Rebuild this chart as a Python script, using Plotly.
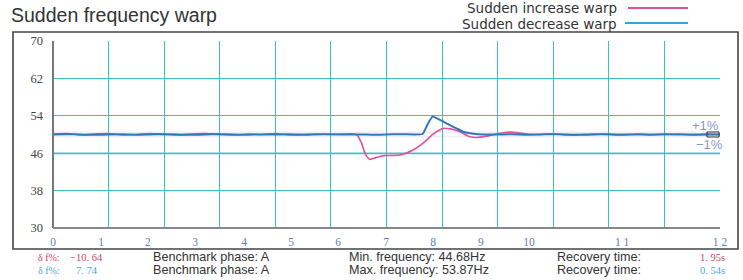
import plotly.graph_objects as go

# ---------------- data ----------------
INC_X = [0, 0.25, 0.5, 0.75, 1.0, 1.25, 1.5, 1.75, 2.0, 2.25, 2.5, 2.75, 3.0, 3.25, 3.5, 3.75,
         4.0, 4.25, 4.5, 4.75, 5.0, 5.25, 5.46, 5.55, 5.62, 5.70, 5.8, 5.9, 6.0, 6.24, 6.48,
         6.6, 6.72, 6.82, 6.9, 7.02, 7.15, 7.32, 7.5, 7.62, 7.78, 7.92, 8.08, 8.22, 8.4, 8.58,
         8.75, 9.0, 9.25, 9.5, 9.75, 10.0, 10.25, 10.5, 10.75, 11.0, 11.25, 11.5, 11.75, 12.0]
INC_Y = [50.1, 50.2, 49.9, 50.1, 50.2, 49.9, 50.0, 50.2, 50.0, 49.9, 50.1, 50.2, 50.0, 49.9, 50.1, 50.0,
         50.2, 49.9, 50.0, 50.1, 50.0, 50.1, 50.0, 48.2, 45.8, 44.68, 45.0, 45.35, 45.5, 45.6, 46.7,
         47.6, 48.8, 49.9, 50.6, 51.3, 51.2, 50.6, 49.5, 49.35, 49.6, 49.95, 50.3, 50.5, 50.3, 50.05,
         50.0, 50.1, 49.9, 50.0, 50.1, 50.0, 49.9, 50.1, 50.0, 50.0, 50.1, 49.9, 50.0, 50.0]

DEC_X = [0, 0.25, 0.5, 0.75, 1.0, 1.25, 1.5, 1.75, 2.0, 2.25, 2.5, 2.75, 3.0, 3.25, 3.5, 3.75,
         4.0, 4.25, 4.5, 4.75, 5.0, 5.25, 5.5, 5.75, 6.0, 6.25, 6.5, 6.65, 6.74, 6.83, 6.9, 7.0,
         7.14, 7.26, 7.38, 7.5, 7.65, 7.8, 8.0, 8.25, 8.5, 8.75, 9.0, 9.25, 9.5, 9.75, 10.0,
         10.25, 10.5, 10.75, 11.0, 11.25, 11.5, 11.75, 12.0]
DEC_Y = [50.0, 50.05, 50.0, 49.95, 50.0, 50.05, 49.95, 50.0, 50.05, 50.0, 49.95, 50.0, 50.05, 50.0, 49.95, 50.0,
         50.0, 50.05, 49.95, 50.0, 50.05, 50.0, 50.0, 49.95, 50.0, 50.05, 50.0, 50.1, 52.2, 53.87, 53.5, 52.9,
         52.0, 51.3, 50.6, 50.25, 50.05, 50.0, 50.0, 50.05, 49.95, 50.0, 50.05, 50.0, 49.95, 50.0, 50.05,
         50.0, 50.0, 49.95, 50.05, 50.0, 50.0, 50.05, 50.0]

SERIES_NAMES = ["Sudden increase warp", "Sudden decrease warp"]
Y_TICKS = [30, 38, 46, 54, 62, 70]
X_TICK_POS = [0, 0.864, 1.709, 2.555, 3.437, 4.282, 5.128, 5.991, 6.837, 7.70, 8.565, 10.24, 12.0]
X_TICK_TEXT = ["0", "1", "2", "3", "4", "5", "6", "7", "8", "9", "10", "1 1", "1 2"]
TOL_BAND = [49.5, 50.5]

ROW1 = ["δ f%:", "−10. 64", "Benchmark phase: A", "Min. frequency: 44.68Hz", "Recovery time:", "1. 95s"]
ROW2 = ["δ f%:", "7. 74", "Benchmark phase: A", "Max. frequency: 53.87Hz", "Recovery time:", "0. 54s"]

# ---------------- layout helpers ----------------
W, H = 743, 280
L, R, T, B = 53, 720, 41, 228


def px(xp):
    return (xp - L) / (R - L)


def py(yp):
    return (B - yp) / (B - T)


PINK = "#e0509a"
BLUE_LINE = "#2f78b8"
LEG_BLUE = "#3aa2d6"
RED_TXT = "#d8405a"
BLUE_TXT = "#4aa8dc"
TEAL = "#3cc0c0"

fig = go.Figure()
fig.add_trace(go.Scatter(x=INC_X, y=INC_Y, mode="lines", name=SERIES_NAMES[0],
                         line=dict(color=PINK, width=1.6, shape="spline", smoothing=0.6)))
fig.add_trace(go.Scatter(x=DEC_X, y=DEC_Y, mode="lines", name=SERIES_NAMES[1],
                         line=dict(color=BLUE_LINE, width=2.0, shape="spline", smoothing=0.4)))
# hidden trace to drive the second x axis (tick labels)
fig.add_trace(go.Scatter(x=[0, 12], y=[None, None], xaxis="x2", showlegend=False,
                         hoverinfo="skip"))

fig.update_layout(
    width=W, height=H,
    margin=dict(l=L, r=W - R, t=T, b=H - B, autoexpand=False),
    paper_bgcolor="white", plot_bgcolor="white",
    showlegend=False,
    xaxis=dict(range=[0, 12], dtick=1, showgrid=True, gridcolor=TEAL, gridwidth=1,
               showticklabels=False, zeroline=False, showline=False, ticks="",
               automargin=False),
    xaxis2=dict(range=[0, 12], overlaying="x", side="bottom", showgrid=False,
                tickmode="array", tickvals=X_TICK_POS, ticktext=X_TICK_TEXT,
                tickfont=dict(family="Liberation Serif", size=11.5, color="#5a7fc0"),
                ticks="", zeroline=False, showline=False, ticklabelstandoff=5,
                automargin=False),
    yaxis=dict(range=[30, 70], tickvals=Y_TICKS, showgrid=True, gridcolor=TEAL, gridwidth=1,
               zeroline=False, showline=False, ticks="", ticklabelstandoff=9,
               automargin=False,
               tickfont=dict(family="Liberation Serif", size=12.5, color="#444444")),
)

shapes = []
# pale 46 gridline
shapes.append(dict(type="line", xref="x", yref="y", x0=0, x1=12, y0=46, y1=46,
                   line=dict(color="#a6e0e0", width=2.5), layer="below"))
# tolerance lines
for v in TOL_BAND:
    shapes.append(dict(type="line", xref="x", yref="y", x0=0, x1=12, y0=v, y1=v,
                       line=dict(color="#e6e6f4", width=1), layer="below"))
# axes lines
shapes.append(dict(type="line", xref="paper", yref="paper", x0=0, x1=0, y0=0, y1=1,
                   line=dict(color="#777777", width=2)))
shapes.append(dict(type="line", xref="paper", yref="paper", x0=0, x1=1, y0=0, y1=0,
                   line=dict(color="#888888", width=2)))
# outer frame
shapes.append(dict(type="rect", xref="paper", yref="paper", x0=px(13), x1=px(738),
                   y0=py(249), y1=py(32), line=dict(color="#444444", width=1.6)))
# small marker box at right end
shapes.append(dict(type="rect", xref="paper", yref="paper", x0=px(707), x1=px(719),
                   y0=py(137), y1=py(132), line=dict(color="#333333", width=1)))
# legend lines
shapes.append(dict(type="line", xref="paper", yref="paper", x0=px(628), x1=px(688),
                   y0=py(8), y1=py(8), line=dict(color=PINK, width=2)))
shapes.append(dict(type="line", xref="paper", yref="paper", x0=px(625), x1=px(688),
                   y0=py(23), y1=py(23), line=dict(color=LEG_BLUE, width=2)))
fig.update_layout(shapes=shapes)

ann = []
SANS = "Liberation Sans"
SERIF = "Liberation Serif"


def add(text, x, y, size, color, family, anchor="left"):
    ann.append(dict(text=text, x=px(x), y=py(y), xref="paper", yref="paper",
                    xanchor=anchor, yanchor="middle", showarrow=False,
                    font=dict(family=family, size=size, color=color)))


add("Sudden frequency warp", 9, 15, 19.5, "#333333", SANS)
add(SERIES_NAMES[0], 619, 8.5, 13.5, "#333333", "DejaVu Sans", "right")
add(SERIES_NAMES[1], 619, 24, 13.5, "#333333", "DejaVu Sans", "right")
add("+1%", 721, 125, 13, "#8a96cc", SANS, "right")
add("−1%", 725, 144, 13, "#8a96cc", SANS, "right")

rows = [(ROW1, 257, RED_TXT, 68), (ROW2, 270, BLUE_TXT, 74)]
for row, yy, col, vx in rows:
    add(row[0], 36, yy, 10, col, SERIF)
    add(row[1], vx, yy, 10.5, col, SERIF)
    add(row[2], 151, yy, 12.6, "#333333", SANS)
    add(row[3], 347, yy, 12.6, "#333333", SANS)
    add(row[4], 555, yy, 12.6, "#333333", SANS)
    add(row[5], 727, yy, 10.5, col, SERIF, "right")
fig.update_layout(annotations=ann)

fig.write_html("out.html", config={"displayModeBar": False},
               post_script="document.body.style.margin='0';document.body.style.overflow='hidden';")
